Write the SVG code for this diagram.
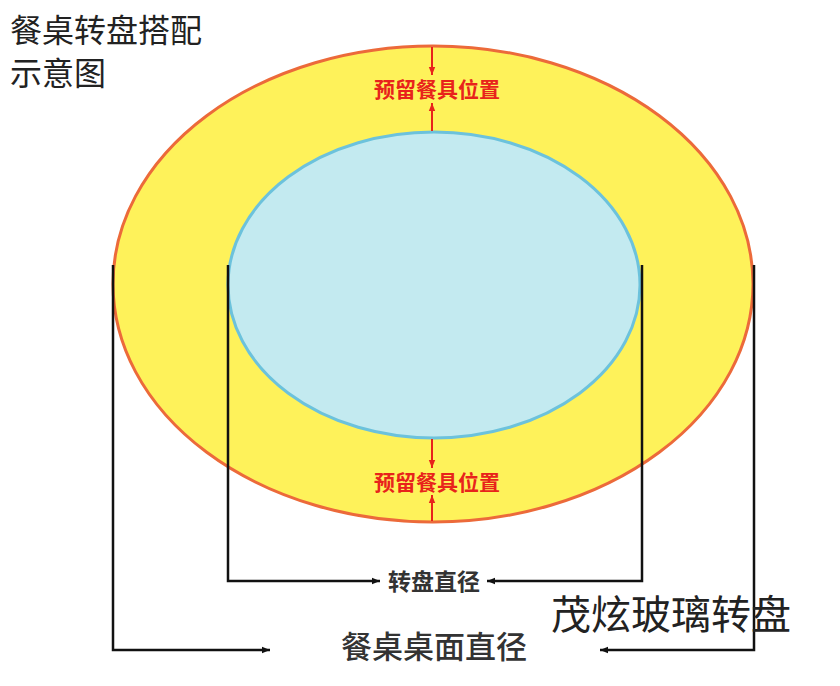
<svg xmlns="http://www.w3.org/2000/svg" width="840" height="686" viewBox="0 0 840 686">
<defs>
<style>
.cjk{font-family:"Noto Sans CJK SC","Liberation Sans",sans-serif}
.dim{stroke:#111;stroke-width:2.5;fill:none}
.red{stroke:#e8231b;stroke-width:2;fill:none}
.redt{fill:#e8231b;font-size:21px;font-weight:bold;text-anchor:middle}
</style>
<marker id="ab" viewBox="0 0 10 10" refX="10" refY="5" markerWidth="12" markerHeight="8" markerUnits="userSpaceOnUse" orient="auto">
<path d="M0,1 L10,5 L0,9 z" fill="#111"/>
</marker>
<marker id="ar" viewBox="0 0 10 10" refX="10" refY="5" markerWidth="8" markerHeight="8" markerUnits="userSpaceOnUse" orient="auto">
<path d="M0,1 L10,5 L0,9 z" fill="#e8231b"/>
</marker>
</defs>
<rect width="840" height="686" fill="#fff"/>
<g id="title">
<text class="cjk" x="10" y="42" font-size="32" fill="#222">餐桌转盘搭配</text>
<text class="cjk" x="10" y="85" font-size="32" fill="#222">示意图</text>
</g>
<g id="table">
<ellipse cx="433" cy="284" rx="320" ry="238" fill="#fef25a" stroke="#ec6a3a" stroke-width="3"/>
</g>
<g id="turntable">
<ellipse cx="434" cy="285" rx="206" ry="153" fill="#c3eaf0" stroke="#6cc2dc" stroke-width="3"/>
</g>
<g id="connectors">
<line class="red" x1="432" y1="47" x2="432" y2="75" marker-end="url(#ar)"/>
<line class="red" x1="432" y1="131" x2="432" y2="103" marker-end="url(#ar)"/>
<line class="red" x1="432" y1="439" x2="432" y2="468" marker-end="url(#ar)"/>
<line class="red" x1="432" y1="521" x2="432" y2="495" marker-end="url(#ar)"/>
<polyline class="dim" points="228,265 228,581 380,581" marker-end="url(#ab)"/>
<polyline class="dim" points="642,265 642,581 487,581" marker-end="url(#ab)"/>
<polyline class="dim" points="113,265 113,650 270,650" marker-end="url(#ab)"/>
<polyline class="dim" points="754,265 754,650 600,650" marker-end="url(#ab)"/>
</g>
<g id="labels">
<text class="cjk redt" x="437" y="97">预留餐具位置</text>
<text class="cjk redt" x="437" y="490">预留餐具位置</text>
<text class="cjk" x="434" y="590" font-size="23" font-weight="bold" fill="#333" text-anchor="middle">转盘直径</text>
<text class="cjk" x="434" y="658" font-size="31" font-weight="500" fill="#333" text-anchor="middle">餐桌桌面直径</text>
<text class="cjk" x="551" y="629" font-size="40" fill="#222">茂炫玻璃转盘</text>
</g>
</svg>
